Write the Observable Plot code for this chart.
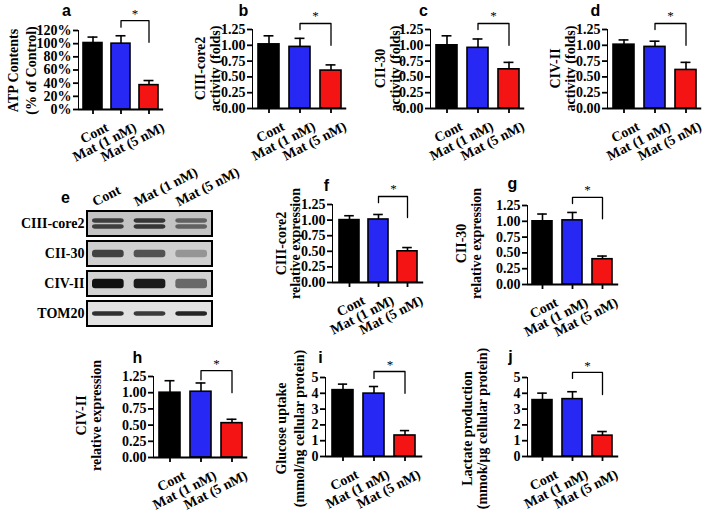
<!DOCTYPE html>
<html>
<head>
<meta charset="utf-8">
<script src="https://cdn.jsdelivr.net/npm/d3@7"></script>
<script src="https://cdn.jsdelivr.net/npm/@observablehq/plot@0.6"></script>
<style>
html, body { margin: 0; padding: 0; background: #fff; }
#fig { position: relative; width: 708px; height: 513px; overflow: hidden; background: #fff; }
#fig svg { position: absolute; left: 0; top: 0; }
#fig svg g[aria-label*="axis"] { stroke-width: 1.8px; }
</style>
</head>
<body>
<div id="fig"></div>
<script>
// ---------------- data ----------------
const groups = ["Cont", "Mat (1 nM)", "Mat (5 nM)"];

// bar means and upper ends of the error bars (mean + SD)
const atpMean = [101, 100, 37];
const atpTop = [110, 112, 44];
const c3ActMean = [1.015, 0.975, 0.60];
const c3ActTop = [1.15, 1.11, 0.69];
const c2ActMean = [1.00, 0.96, 0.62];
const c2ActTop = [1.15, 1.10, 0.73];
const c4ActMean = [1.01, 0.975, 0.61];
const c4ActTop = [1.085, 1.065, 0.73];
const c3ExpMean = [1.00, 1.01, 0.50];
const c3ExpTop = [1.07, 1.09, 0.56];
const c2ExpMean = [1.00, 1.015, 0.40];
const c2ExpTop = [1.115, 1.14, 0.45];
const c4ExpMean = [1.00, 1.015, 0.53];
const c4ExpTop = [1.185, 1.15, 0.59];
const glucoseMean = [4.2, 3.98, 1.33];
const glucoseTop = [4.58, 4.43, 1.64];
const lactateMean = [3.57, 3.63, 1.32];
const lactateTop = [4.01, 4.10, 1.58];

// significance brackets: [left end, top, right end, asterisk]
const atpSig = [125, 135, 102, 146];
const c3ActSig = [1.25, 1.345, 1.0, 1.46];
const c2ActSig = [1.25, 1.345, 1.0, 1.46];
const c4ActSig = [1.25, 1.345, 1.0, 1.46];
const c3ExpSig = [1.28, 1.378, 1.04, 1.5];
const c2ExpSig = [1.28, 1.377, 1.04, 1.5];
const c4ExpSig = [1.20, 1.34, 1.0, 1.44];
const glucoseSig = [4.94, 5.38, 4.0, 5.8];
const lactateSig = [4.94, 5.32, 3.92, 5.76];

// tick values
const pctTicks = [0, 20, 40, 60, 80, 100, 120];
const foldTicks = [0, 0.25, 0.5, 0.75, 1.0, 1.25];
const intTicks = [0, 1, 2, 3, 4, 5];

// western blot
const blotLanes = ["Cont", "Mat (1 nM)", "Mat (5 nM)"];
const blotProteins = ["CIII-core2", "CII-30", "CIV-II", "TOM20"];
const blotCIIIcore2 = [0.75, 0.80, 0.55];
const blotCII30 = [0.75, 0.65, 0.30];
const blotCIVII = [1.00, 0.95, 0.55];
const blotTOM20 = [0.85, 0.80, 0.90];

// ---------------- styles & layout ----------------
const W = 708, H = 513;
const PI = 0.32, PO = 0.18;
const barColors = ["#000000", "#2828f5", "#f51414"];
const serif = "'Liberation Serif', 'Times New Roman', serif";
const sans = "'Liberation Sans', Arial, sans-serif";

const panels = [
  {letter: "a", mean: atpMean, top: atpTop, sig: atpSig, ticks: pctTicks, fmt: d => d + "%", max: 120,
   ylabel: "ATP Contents\n(% of Control)",
   L: {x0: 78, step: 28, yTop: 30, y0: 109, labX: 21, labY: 70, lh: 1.25, letX: 66, letY: 15}},
  {letter: "b", mean: c3ActMean, top: c3ActTop, sig: c3ActSig, ticks: foldTicks, fmt: d => d.toFixed(2), max: 1.25,
   ylabel: "CIII-core2\nactivity (folds)",
   L: {x0: 252, step: 31, yTop: 29, y0: 108, labX: 207, labY: 68, lh: 1.1, letX: 243, letY: 15}},
  {letter: "c", mean: c2ActMean, top: c2ActTop, sig: c2ActSig, ticks: foldTicks, fmt: d => d.toFixed(2), max: 1.25,
   ylabel: "CII-30\nactivity (folds)",
   L: {x0: 430, step: 31, yTop: 29, y0: 108, labX: 387, labY: 68, lh: 1.1, letX: 423, letY: 15}},
  {letter: "d", mean: c4ActMean, top: c4ActTop, sig: c4ActSig, ticks: foldTicks, fmt: d => d.toFixed(2), max: 1.25,
   ylabel: "CIV-II\nactivity (folds)",
   L: {x0: 607, step: 31, yTop: 29, y0: 108, labX: 562, labY: 68, lh: 1.1, letX: 595, letY: 15}},
  {letter: "f", mean: c3ExpMean, top: c3ExpTop, sig: c3ExpSig, ticks: foldTicks, fmt: d => d.toFixed(2), max: 1.25,
   ylabel: "CIII-core2\nrelative expression",
   L: {x0: 332, step: 30, yTop: 204, y0: 282, labX: 288, labY: 243, lh: 1.0, letX: 326, letY: 190}},
  {letter: "g", mean: c2ExpMean, top: c2ExpTop, sig: c2ExpSig, ticks: foldTicks, fmt: d => d.toFixed(2), max: 1.25,
   ylabel: "CII-30\nrelative expression",
   L: {x0: 527, step: 30, yTop: 205, y0: 284, labX: 468, labY: 243, lh: 1.1, letX: 512, letY: 188}},
  {letter: "h", mean: c4ExpMean, top: c4ExpTop, sig: c4ExpSig, ticks: foldTicks, fmt: d => d.toFixed(2), max: 1.25,
   ylabel: "CIV-II\nrelative expression",
   L: {x0: 153, step: 31, yTop: 376, y0: 457, labX: 88, labY: 415, lh: 1.1, letX: 137, letY: 362}},
  {letter: "i", mean: glucoseMean, top: glucoseTop, sig: glucoseSig, ticks: intTicks, fmt: d => String(d), max: 5,
   ylabel: "Glucose uptake\n(mmol/ng cellular protein)",
   L: {x0: 325, step: 32, yTop: 377, y0: 456, labX: 289, labY: 428, lh: 1.25, letX: 320, letY: 362}},
  {letter: "j", mean: lactateMean, top: lactateTop, sig: lactateSig, ticks: intTicks, fmt: d => String(d), max: 5,
   ylabel: "Lactate production\n(mmok/μg cellular protein)",
   L: {x0: 527, step: 30, yTop: 377, y0: 456, labX: 474, labY: 428, lh: 1.1, letX: 510, letY: 361}}
];

const fig = document.getElementById("fig");

function barPanel(p) {
  const L = p.L;
  const x1 = L.x0 + L.step * (3 - PI + 2 * PO);
  const bw = L.step * (1 - PI);
  const data = groups.map((g, i) => ({g, v: p.mean[i], e: p.top[i], c: barColors[i]}));
  const bracket = [
    {g: groups[1], v: p.sig[0]},
    {g: groups[1], v: p.sig[1]},
    {g: groups[2], v: p.sig[1]},
    {g: groups[2], v: p.sig[2]}
  ];
  return Plot.plot({
    width: W, height: H,
    marginLeft: L.x0, marginRight: W - x1, marginTop: L.yTop, marginBottom: H - L.y0,
    style: {background: "transparent", fontFamily: serif, fontWeight: "bold", fontSize: "14px", color: "black"},
    x: {type: "band", domain: groups, paddingInner: PI, paddingOuter: PO, tickSize: 5, tickFormat: () => "", label: null},
    y: {domain: [0, p.max], ticks: p.ticks, tickFormat: p.fmt, tickSize: 5, tickPadding: 2, line: true, label: null},
    color: {type: "identity"},
    marks: [
      Plot.barY(data, {x: "g", y: "v", fill: "c", stroke: "black", strokeWidth: 1.6}),
      Plot.ruleX(data, {x: "g", y1: "v", y2: "e", stroke: "black", strokeWidth: 1.6}),
      Plot.tickY(data, {x: "g", y: "e", stroke: "black", strokeWidth: 1.6, insetLeft: (bw - 10) / 2, insetRight: (bw - 10) / 2}),
      Plot.ruleY([0], {stroke: "black", strokeWidth: 1.8}),
      Plot.line(bracket, {x: "g", y: "v", stroke: "black", strokeWidth: 1.3}),
      Plot.text([{g: groups[1], v: p.sig[3]}], {x: "g", y: "v", text: () => "*", dx: L.step / 2, fontFamily: serif, fontWeight: "normal", fontSize: 13}),
      // rotated category labels
      Plot.text(groups, {x: d => d, text: d => d, frameAnchor: "bottom", dx: 12, dy: 12, rotate: -27,
        textAnchor: "end", lineAnchor: "top", fontFamily: serif, fontWeight: "bold", fontSize: 14}),
      Plot.text([p.ylabel], {text: d => d, frameAnchor: "left", dx: L.labX - L.x0, dy: L.labY - (L.yTop + L.y0) / 2,
        rotate: -90, textAnchor: "middle", lineAnchor: "middle", lineHeight: L.lh, fontSize: 14, fontFamily: serif, fontWeight: "bold"}),
      Plot.text([p.letter], {text: d => d, frameAnchor: "top-left", dx: L.letX - L.x0, dy: L.letY - L.yTop,
        textAnchor: "middle", lineAnchor: "bottom", fontFamily: sans, fontWeight: "bold", fontSize: 16})
    ]
  });
}

for (const p of panels) fig.appendChild(barPanel(p));

// ---------------- western blot (panel e) ----------------
(function () {
  const rowBg = ["#c3c3c3", "#cfcfcf", "#d2d2d2", "#e2e2e2"];
  // band profile per row: list of [vertical offset, thickness] in px
  const bandProfile = [[[-3, 4], [3, 4]], [[0, 7]], [[0, 9]], [[0, 4]]];
  const intens = [blotCIIIcore2, blotCII30, blotCIVII, blotTOM20];
  const boxL = 87, boxR = 212, boxT = 211, boxB = 326, padIn = 0.18;
  const rowBw = (boxB - boxT) / (4 - padIn) * (1 - padIn);
  const bandMarks = [];
  blotProteins.forEach((prot, r) => {
    const rows = blotLanes.map((lane, i) => ({p: prot, lane: i, a: intens[r][i]}));
    for (const [off, th] of bandProfile[r]) {
      const inset = (rowBw - th) / 2;
      bandMarks.push(Plot.barX(rows, {x1: d => d.lane - 0.38, x2: d => d.lane + 0.38, y: "p", fill: "#111", fillOpacity: "a",
        insetTop: inset + off, insetBottom: inset - off, rx: 3, ariaLabel: "blot-band"}));
    }
  });
  const svg = Plot.plot({
    width: W, height: H,
    marginLeft: boxL, marginRight: W - boxR, marginTop: boxT, marginBottom: H - boxB,
    style: {background: "transparent", fontFamily: serif, fontWeight: "bold", fontSize: "14px", color: "black"},
    x: {domain: [-0.5, 2.5], axis: null},
    y: {type: "band", domain: blotProteins, paddingInner: padIn, paddingOuter: 0, tickSize: 0, tickPadding: 3, label: null},
    color: {type: "identity"},
    opacity: {type: "identity"},
    marks: [
      Plot.barX(blotProteins, {x1: () => -0.5, x2: () => 2.5, y: d => d, fill: (d, i) => rowBg[i]}),
      ...bandMarks,
      Plot.barX(blotProteins, {x1: () => -0.5, x2: () => 2.5, y: d => d, fill: "none", stroke: "black", strokeWidth: 2}),
      Plot.text(blotLanes, {x: (d, i) => i, text: d => d, frameAnchor: "top", dx: -13, dy: -5, rotate: -27,
        textAnchor: "start", lineAnchor: "bottom", fontFamily: serif, fontWeight: "bold", fontSize: 14}),
      Plot.text(["e"], {text: d => d, frameAnchor: "top-left", dx: 65 - boxL, dy: 202 - boxT,
        textAnchor: "middle", lineAnchor: "bottom", fontFamily: sans, fontWeight: "bold", fontSize: 16})
    ]
  });
  const s = d3.select(svg);
  s.insert("defs", ":first-child").append("filter").attr("id", "blotblur")
    .attr("x", "-20%").attr("y", "-80%").attr("width", "140%").attr("height", "260%")
    .append("feGaussianBlur").attr("stdDeviation", 1.5);
  s.selectAll('g[aria-label="blot-band"]').attr("filter", "url(#blotblur)");
  fig.appendChild(svg);
})();
</script>
</body>
</html>
